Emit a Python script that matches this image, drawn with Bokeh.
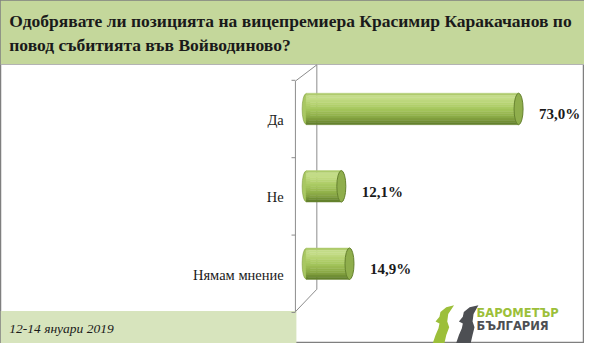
from bokeh.plotting import figure
from bokeh.models import Range1d
from bokeh.core.properties import value
from bokeh.embed import file_html
from bokeh.resources import INLINE

# ---------------- data ----------------
categories = ["Да", "Не", "Нямам мнение"]
values = [73.0, 12.1, 14.9]
value_labels = ["73,0%", "12,1%", "14,9%"]
title_lines = ["Одобрявате ли позицията на вицепремиера Красимир Каракачанов по",
               "повод събитията във Войводиново?"]
footer_text = "12-14 януари 2019"
logo_lines = ["БАРОМЕТЪР", "БЪЛГАРИЯ"]

# ---------------- layout helpers ----------------
W, H = 584, 343
REF_W, REF_H = 600, 359
X0_PX, X_PER = 314.0, 2.99      # value 0 position and px per percent (reference px)
Y0_PX, Y_PER = 113.5, 81.0      # first category centre and px per category


def X(px):
    return (px - X0_PX) / X_PER


def Y(py):
    return (py - Y0_PX) / Y_PER


def hex2rgb(h):
    h = h.lstrip("#")
    return tuple(int(h[i:i + 2], 16) for i in (0, 2, 4))


def grad(stops, t):
    for (t0, c0), (t1, c1) in zip(stops, stops[1:]):
        if t0 <= t <= t1:
            f = (t - t0) / (t1 - t0) if t1 > t0 else 0
            a, b = hex2rgb(c0), hex2rgb(c1)
            return "#%02x%02x%02x" % tuple(int(round(a[i] + (b[i] - a[i]) * f)) for i in range(3))
    return stops[-1][1]


SERIF = value("Liberation Serif")

p = figure(width=W, height=H, output_backend="svg", toolbar_location=None,
           x_range=Range1d(X(0), X(REF_W)), y_range=Range1d(Y(REF_H), Y(0)),
           x_axis_location=None, y_axis_location=None, min_border=0,
           background_fill_color="white", border_fill_color="white")
p.grid.visible = False
p.outline_line_color = "#7f7f7f"
p.outline_line_width = 1.5

idx = list(range(len(categories)))

# title band
p.quad(left=[X(0)], right=[X(REF_W)], top=[Y(0)], bottom=[Y(67)],
       fill_color="#c4d79b", line_color=None)
p.segment(x0=[X(0)], y0=[Y(67)], x1=[X(REF_W)], y1=[Y(67)], line_color="#b3b3b3", line_width=1)
for k, line in enumerate(title_lines):
    p.text(x=[X(9)], y=[Y(21 + 26 * k)], text=[line], text_font=SERIF,
           text_font_style="bold", text_font_size="17.5px", text_color="#1a1a1a",
           text_baseline="middle", text_align="left")

# footer band
p.quad(left=[X(0)], right=[X(304)], top=[Y(325)], bottom=[Y(REF_H)],
       fill_color="#d7e4bd", line_color=None)
p.text(x=[X(9)], y=[Y(343)], text=[footer_text], text_font=SERIF,
       text_font_style="italic", text_font_size="13.5px", text_color="#1a1a1a",
       text_baseline="middle", text_align="left")

# 3D wall lines of category axis
n = len(categories)
front_top, front_bot = -0.5 + 0.14, n - 0.5 + 0.12
back_top, back_bot = -0.5 - 0.07, n - 0.5 - 0.17
xf, xb = X(303), X(325)
p.segment(x0=[xb, xf, xf], y0=[back_top, front_top, front_bot],
          x1=[xb, xb, xb], y1=[back_bot, back_top, back_bot],
          line_color="#8c8c8c", line_width=1)
p.segment(x0=[xf], y0=[front_top], x1=[xf], y1=[front_bot], line_color="#8c8c8c", line_width=1)
ticks = [i - 0.5 + 0.13 for i in range(n + 1)]
p.segment(x0=[X(299)] * len(ticks), y0=ticks, x1=[xf] * len(ticks), y1=ticks,
          line_color="#8c8c8c", line_width=1)

# category labels
p.text(x=[X(291)] * n, y=[i + 0.14 for i in idx], text=categories, text_font=SERIF,
       text_font_size="14.5px", text_color="#1a1a1a", text_baseline="middle", text_align="right")

# cylinders
bh = 33 / Y_PER
stops = [(0.0, "#a3c35e"), (0.12, "#c8df8e"), (0.30, "#bad676"), (0.55, "#a2c359"),
         (0.80, "#86a542"), (1.0, "#5c7a28")]
p.ellipse(x=[0] * n, y=idx, width=8, height=bh * 0.97, width_units="screen",
          fill_color="#a8c762", line_color="#7f9c3c", line_width=0.6)
N = 14
for k in range(N):
    c = grad(stops, (k + 0.5) / N)
    p.hbar(y=[i - bh / 2 + (k + 0.5) * bh / N for i in idx], left=0, right=values,
           height=bh / N, fill_color=c, line_color=c, line_width=0.4)
p.ellipse(x=values, y=idx, width=9, height=bh, width_units="screen",
          fill_color="#8fae4c", line_color="#66822f", line_width=1)

# value labels
p.text(x=[v + 21 / X_PER for v in values], y=[i + 0.07 for i in idx], text=value_labels,
       text_font=SERIF, text_font_style="bold", text_font_size="15px", text_color="#1a1a1a",
       text_baseline="middle", text_align="left")

# logo
green_head = [(466, 319), (458, 321), (452, 326), (451, 331), (447, 336), (451, 338), (450, 343),
              (447, 350), (444, 359), (456, 359), (458, 350), (461, 342), (459, 336), (460, 328)]
dark_head = [(491, 319), (482, 321), (476, 326), (475, 331), (471, 336), (475, 338), (474, 343),
             (471, 350), (468, 359), (483, 359), (485, 350), (487, 342), (485, 336), (486, 328)]
p.patch(x=[X(a) for a, b in green_head], y=[Y(b) for a, b in green_head],
        fill_color="#9cbf3a", line_color=None)
p.patch(x=[X(a) for a, b in dark_head], y=[Y(b) for a, b in dark_head],
        fill_color="#4d4f53", line_color=None)
p.text(x=[X(489)], y=[Y(327)], text=[logo_lines[0]], text_font=value("DejaVu Sans"),
       text_font_style="bold", text_font_size="11.5px", text_color="#9cbf3a",
       text_baseline="middle", text_align="left")
p.text(x=[X(489)], y=[Y(341)], text=[logo_lines[1]], text_font=value("DejaVu Sans"),
       text_font_style="bold", text_font_size="11.5px", text_color="#4d4f53",
       text_baseline="middle", text_align="left")

open("out.html", "w").write(file_html(p, INLINE))
